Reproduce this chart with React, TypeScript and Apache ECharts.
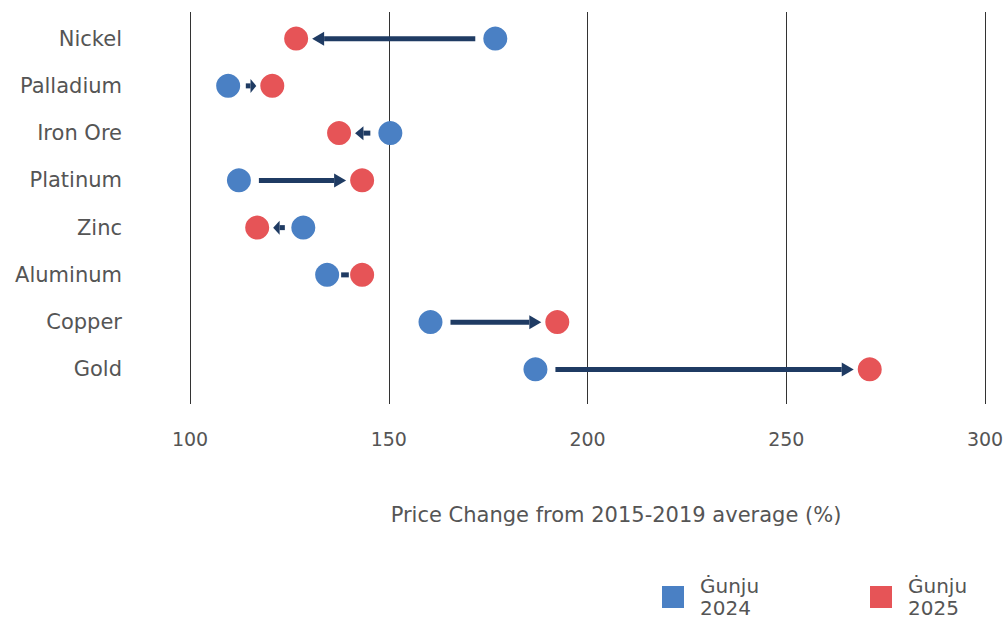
import React, { useEffect, useRef } from "react";
import * as echarts from "echarts";

const categories = ["Nickel", "Palladium", "Iron Ore", "Platinum", "Zinc", "Aluminum", "Copper", "Gold"];
const values2024 = [176.8, 109.6, 150.4, 112.3, 128.5, 134.5, 160.5, 186.9];
const values2025 = [126.7, 120.7, 137.5, 143.3, 116.9, 143.3, 192.4, 271.0];
const xTicks = [100, 150, 200, 250, 300];
const seriesNames = ["Ġunju 2024", "Ġunju 2025"];
const axisTitle = "Price Change from 2015-2019 average (%)";

const BLUE = "#4A80C4";
const RED = "#E65457";
const NAVY = "#1F3B63";
const FONT = "'DejaVu Sans', sans-serif";
const TEXT = "#555555";

export default function App() {
  const ref = useRef<HTMLDivElement>(null);
  useEffect(() => {
    document.body.style.margin = "0";
    const chart = echarts.init(ref.current!, null, { renderer: "svg" });
    const xMin = xTicks[0];
    const xMax = xTicks[xTicks.length - 1];
    const legendBase = {
      top: 570,
      padding: 5,
      icon: "rect",
      itemWidth: 22,
      itemHeight: 22,
      formatter: (n: string) => n.replace(" ", "\n"),
      textStyle: { color: TEXT, fontSize: 20, lineHeight: 22, fontFamily: FONT, padding: [0, 0, 0, 11] },
    };
    const option: any = {
      animation: false,
      textStyle: { fontFamily: FONT },
      grid: [
        { left: 190, right: 23, top: 15, height: 378 },
        { left: 190, right: 23, top: 12, height: 392 },
      ],
      xAxis: [
        { gridIndex: 0, type: "value", min: xMin, max: xMax, interval: 50, show: false },
        {
          gridIndex: 1,
          type: "value",
          min: xMin,
          max: xMax,
          interval: 50,
          axisLine: { show: false },
          axisTick: { show: false },
          splitLine: { show: true, lineStyle: { color: "#333333", width: 1 } },
          axisLabel: { color: TEXT, fontSize: 19, margin: 25, fontFamily: FONT },
        },
      ],
      yAxis: [
        {
          gridIndex: 0,
          type: "category",
          data: categories,
          inverse: true,
          axisLine: { show: false },
          axisTick: { show: false },
          splitLine: { show: false },
          axisLabel: { color: TEXT, fontSize: 21, margin: 68, fontFamily: FONT },
        },
        { gridIndex: 1, type: "value", show: false, min: 0, max: 1 },
      ],
      legend: [
        { ...legendBase, data: [seriesNames[0]], left: 657 },
        { ...legendBase, data: [seriesNames[1]], left: 865 },
      ],
      graphic: [
        {
          type: "text",
          x: 616,
          y: 515,
          style: {
            text: axisTitle,
            fill: TEXT,
            fontSize: 21,
            fontFamily: FONT,
            textAlign: "center",
            textVerticalAlign: "middle",
          },
        },
      ],
      series: [
        {
          type: "custom",
          name: "arrows",
          xAxisIndex: 0,
          yAxisIndex: 0,
          encode: { x: [0, 1], y: 2 },
          data: categories.map((c, i) => [values2024[i], values2025[i], i]),
          renderItem: (params: any, api: any) => {
            const p1 = api.coord([api.value(0), api.value(2)]);
            const p2 = api.coord([api.value(1), api.value(2)]);
            const y = p1[1];
            const x1 = p1[0];
            const x2 = p2[0];
            const dir = x2 >= x1 ? 1 : -1;
            const len = Math.abs(x2 - x1);
            const tail = Math.min(20, len * 0.4);
            const tip = Math.min(16, len * 0.38);
            const start = x1 + dir * tail;
            const end = x2 - dir * tip;
            const seg = Math.abs(end - start);
            const head = seg < 9 ? 0 : Math.min(12, seg * 0.55);
            const shaftEnd = end - dir * head;
            const children: any[] = [
              {
                type: "rect",
                shape: { x: Math.min(start, shaftEnd), y: y - 2.5, width: Math.abs(shaftEnd - start), height: 5 },
                style: { fill: NAVY },
              },
            ];
            if (head > 0) {
              children.push({
                type: "polygon",
                shape: { points: [[end, y], [shaftEnd, y - 7], [shaftEnd, y + 7]] },
                style: { fill: NAVY },
              });
            }
            return { type: "group", children };
          },
          z: 1,
        },
        {
          type: "scatter",
          name: seriesNames[0],
          xAxisIndex: 0,
          yAxisIndex: 0,
          symbolSize: 24,
          itemStyle: { color: BLUE, opacity: 1 },
          data: categories.map((c, i) => [values2024[i], c]),
          z: 3,
        },
        {
          type: "scatter",
          name: seriesNames[1],
          xAxisIndex: 0,
          yAxisIndex: 0,
          symbolSize: 24,
          itemStyle: { color: RED, opacity: 1 },
          data: categories.map((c, i) => [values2025[i], c]),
          z: 3,
        },
      ],
    };
    chart.setOption(option);
    return () => chart.dispose();
  }, []);
  return <div ref={ref} style={{ width: 1008, height: 621 }} />;
}
